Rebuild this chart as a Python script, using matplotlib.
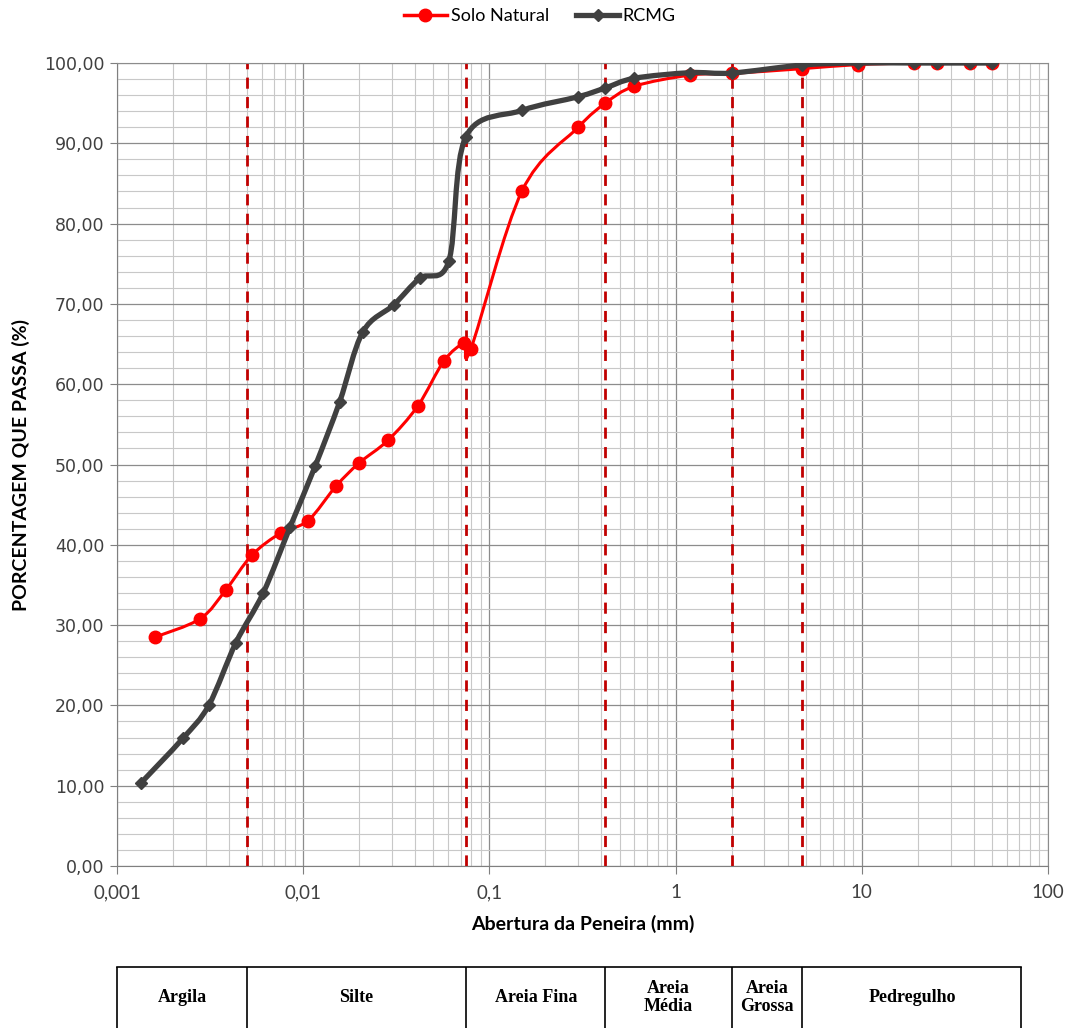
import matplotlib
matplotlib.use("Agg")
import matplotlib.pyplot as plt
import numpy as np
from matplotlib.path import Path
from matplotlib.patches import PathPatch
from matplotlib.lines import Line2D
from matplotlib.ticker import FixedLocator, FuncFormatter, MultipleLocator

# Solo Natural
solo_x = [0.0016, 0.0028, 0.00385, 0.0053, 0.0076, 0.0106, 0.015, 0.020, 0.0285,
          0.0413, 0.057, 0.073, 0.0795, 0.15, 0.30, 0.42, 0.60, 1.2, 2.0, 4.8,
          9.5, 19.0, 25.4, 38.0, 50.0]
solo_y = [28.5, 30.8, 34.4, 38.7, 41.5, 43.0, 47.3, 50.2, 53.0,
          57.3, 62.9, 65.1, 64.4, 84.1, 92.0, 95.0, 97.1, 98.5, 98.7, 99.3,
          99.8, 100.0, 100.0, 100.0, 100.0]

# RCMG
rcmg_x = [0.00134, 0.00226, 0.00311, 0.00435, 0.0061, 0.0085, 0.0116, 0.0157,
          0.0209, 0.0307, 0.0423, 0.0605, 0.0747, 0.15, 0.30, 0.42, 0.60, 1.2,
          2.0, 4.8, 9.5, 19.0, 25.4, 38.0, 50.0]
rcmg_y = [10.3, 15.9, 20.0, 27.8, 34.0, 42.2, 49.8, 57.8,
          66.5, 69.9, 73.2, 75.3, 90.8, 94.1, 95.8, 96.9, 98.1, 98.8,
          98.75, 99.75, 100.0, 100.0, 100.0, 100.0, 100.0]

# limites das faixas granulometricas (mm)
limites = [0.005, 0.075, 0.42, 2.0, 4.8]
faixas_bordas = [0.001, 0.005, 0.075, 0.42, 2.0, 4.8, 72.0]
faixas_nomes = ["Argila", "Silte", "Areia Fina", "Areia\nMédia", "Areia\nGrossa", "Pedregulho"]

x_ticks = [0.001, 0.01, 0.1, 1, 10, 100]
x_labels = ["0,001", "0,01", "0,1", "1", "10", "100"]


def smooth_path(xs, ys):
    # curva suavizada (estilo Excel) feita em espaco log10(x)
    lx = np.log10(xs)
    y = np.asarray(ys, dtype=float)
    n = len(lx)
    verts = [(xs[0], y[0])]
    codes = [Path.MOVETO]
    for i in range(n - 1):
        i0 = max(i - 1, 0)
        i3 = min(i + 2, n - 1)
        c1x = lx[i] + (lx[i + 1] - lx[i0]) / 6
        c1y = y[i] + (y[i + 1] - y[i0]) / 6
        c2x = lx[i + 1] - (lx[i3] - lx[i]) / 6
        c2y = y[i + 1] - (y[i3] - y[i]) / 6
        verts += [(10 ** c1x, c1y), (10 ** c2x, c2y), (xs[i + 1], y[i + 1])]
        codes += [Path.CURVE4] * 3
    return Path(verts, codes)


fig = plt.figure(figsize=(10.73, 10.28), dpi=100)
ax = fig.add_axes([0.1090, 0.1576, 0.8677, 0.7811])
ax.set_xscale("log")
ax.set_xlim(0.001, 100)
ax.set_ylim(0, 100)

ax.yaxis.set_major_locator(MultipleLocator(10))
ax.yaxis.set_minor_locator(MultipleLocator(2))
ax.xaxis.set_major_locator(FixedLocator(x_ticks))
ax.xaxis.set_major_formatter(FuncFormatter(lambda v, p: x_labels[x_ticks.index(v)] if v in x_ticks else ""))
ax.yaxis.set_major_formatter(FuncFormatter(lambda v, p: f"{v:.2f}".replace(".", ",")))

ax.grid(True, which="major", color="#8c8c8c", lw=0.9)
ax.grid(True, which="minor", color="#c8c8c8", lw=0.8)
ax.set_axisbelow(True)
for s in ax.spines.values():
    s.set_color("#8c8c8c")
ax.spines["left"].set_color("#7f7f7f")
ax.spines["bottom"].set_color("#7f7f7f")

ax.tick_params(axis="x", which="major", length=6, color="#7f7f7f", labelsize=13.5, pad=7)
ax.tick_params(axis="x", which="minor", length=0)
ax.tick_params(axis="y", which="major", length=5, color="#7f7f7f", labelsize=12.5,
               labelcolor="#404040", pad=4)
ax.tick_params(axis="y", which="minor", length=0)
for lbl in ax.get_xticklabels():
    lbl.set_fontfamily("Lato")
    lbl.set_color("#404040")

for lim in limites:
    ax.axvline(lim, color="#c00000", lw=2, ls=(0, (4, 3)), zorder=2)

ax.add_patch(PathPatch(smooth_path(solo_x, solo_y), fill=False, edgecolor="#ff0000", lw=2.2, zorder=3))
ax.plot(solo_x, solo_y, ls="none", marker="o", ms=9, color="#ff0000", zorder=4)

ax.add_patch(PathPatch(smooth_path(rcmg_x, rcmg_y), fill=False, edgecolor="#404040", lw=3.8, zorder=5))
ax.plot(rcmg_x, rcmg_y, ls="none", marker="D", ms=6.5, color="#404040", zorder=6)

ax.set_xlabel("Abertura da Peneira (mm)", fontsize=14, fontweight="bold", family="Lato", labelpad=10)
ax.set_ylabel("PORCENTAGEM QUE PASSA (%)", fontsize=14, fontweight="bold", family="Lato", labelpad=10)

handles = [Line2D([], [], color="#ff0000", lw=2.5, marker="o", ms=9),
           Line2D([], [], color="#404040", lw=3.8, marker="D", ms=6.5)]
fig.legend(handles, ["Solo Natural", "RCMG"], loc="center", bbox_to_anchor=(0.503, 0.984),
           ncol=2, frameon=False, prop={"family": "Lato", "size": 13}, handlelength=2.4,
           handletextpad=0.2, columnspacing=1.5)

# tabela de classificacao
tab = fig.add_axes([0.1090, 0.0, 0.8677, 0.0593])
tab.set_xscale("log")
tab.set_xlim(0.001, 100)
tab.set_ylim(0, 1)
tab.axis("off")
tab.plot([faixas_bordas[0], faixas_bordas[-1]], [1, 1], color="black", lw=1.2, clip_on=False)
tab.vlines(faixas_bordas, 0, 1, color="black", lw=1.2, clip_on=False)
for i, nome in enumerate(faixas_nomes):
    xc = np.sqrt(faixas_bordas[i] * faixas_bordas[i + 1])
    tab.text(xc, 0.5, nome, ha="center", va="center", fontsize=13, fontweight="bold",
             family="Liberation Serif", linespacing=1.05)

fig.savefig("out.png", dpi=100)
